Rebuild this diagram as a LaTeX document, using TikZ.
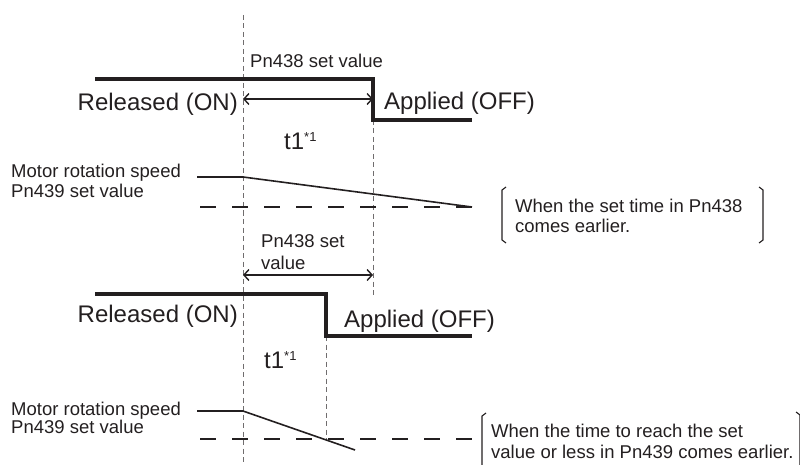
\documentclass[tikz,border=0pt]{standalone}
\usepackage{fontspec}
\setmainfont{Liberation Sans}
\usetikzlibrary{arrows.meta}
\definecolor{ink}{HTML}{231F20}
\tikzset{
  signal/.style={line width=3.2pt, ink},
  guide/.style={line width=0.9pt, ink!65, dash pattern=on 5pt off 3.5pt},
  level/.style={line width=2.6pt, ink, dash pattern=on 16pt off 16pt},
  speed/.style={line width=1.6pt, ink},
  span/.style={line width=1.4pt, ink, {Straight Barb[length=5pt,width=11pt]}-{Straight Barb[length=5pt,width=11pt]}},
  note/.style={inner sep=0pt, font=\fontsize{18.5}{21}\selectfont, text=ink},
  state/.style={inner sep=0pt, font=\fontsize{24}{28}\selectfont, text=ink},
  brace/.style={line width=1.1pt, ink}
}
\newcommand{\tone}{t1\raisebox{8pt}{\fontsize{13}{13}\selectfont *1}}
\begin{document}
\begin{tikzpicture}[x=1pt,y=-1pt]
  \useasboundingbox (0,0) rectangle (800,465);
  % guide lines
  \coordinate (start) at (243,15);
  \coordinate (startend) at (243,465);
  \draw[guide] (start) -- (startend);
  \coordinate (set1) at (373,120);
  \coordinate (set1end) at (373,295);
  \draw[guide] (set1) -- (set1end);
  \coordinate (drop2) at (326,336);
  \coordinate (drop2end) at (326,440);
  \draw[guide] (drop2) -- (drop2end);

  % upper chart
  \draw[signal] (95,79) -- (373,79) -- (set1) -- (472,120);
  \coordinate (a1) at (243,99);
  \coordinate (b1) at (373,99);
  \draw[span] (a1) -- (b1);
  \node[note, anchor=base west] (pnA) at (250,68) {Pn438 set value};
  \node[state, anchor=base east] (relA) at (238,111) {Released (ON)};
  \node[state, anchor=base west] (appA) at (384,110) {Applied (OFF)};
  \node[state, anchor=base west] (tA) at (284,150) {\tone};
  \node[note, anchor=base west] (motA) at (11,178) {Motor rotation speed};
  \node[note, anchor=base west] (valA) at (11,197) {Pn439 set value};
  \draw[speed] (197,177) -- (243,177) -- (472,207);
  \draw[level] (200,207) -- (472,207);
  \draw[brace] (506,187) -- (502,190) -- (502,240) -- (506,243);
  \draw[brace] (759,187) -- (763,190) -- (763,240) -- (759,243);
  \node[note, anchor=base west] (whenA) at (515,212) {When the set time in Pn438};
  \node[note, anchor=base west] (earlyA) at (515,233) {comes earlier.};

  % lower chart
  \node[note, anchor=base west] (pnB) at (261,247) {Pn438 set};
  \node[note, anchor=base west] (pnBb) at (261,269) {value};
  \coordinate (a2) at (243,275);
  \coordinate (b2) at (373,275);
  \draw[span] (a2) -- (b2);
  \draw[signal] (95,294) -- (326,294) -- (drop2) -- (472,336);
  \node[state, anchor=base east] (relB) at (238,322) {Released (ON)};
  \node[state, anchor=base west] (appB) at (344,327) {Applied (OFF)};
  \node[state, anchor=base west] (tB) at (264,368) {\tone};
  \node[note, anchor=base west] (motB) at (11,415) {Motor rotation speed};
  \node[note, anchor=base west] (valB) at (11,433) {Pn439 set value};
  \draw[speed] (197,411) -- (243,411) -- (355,450);
  \draw[level] (200,439) -- (472,439);
  \draw[brace] (486,413) -- (482,416) -- (482,466);
  \draw[brace] (796,412) -- (800,415) -- (800,466);
  \node[note, anchor=base west] (whenB) at (491,437) {When the time to reach the set};
  \node[note, anchor=base west] (earlyB) at (491,458) {value or less in Pn439 comes earlier.};
\end{tikzpicture}
\end{document}
